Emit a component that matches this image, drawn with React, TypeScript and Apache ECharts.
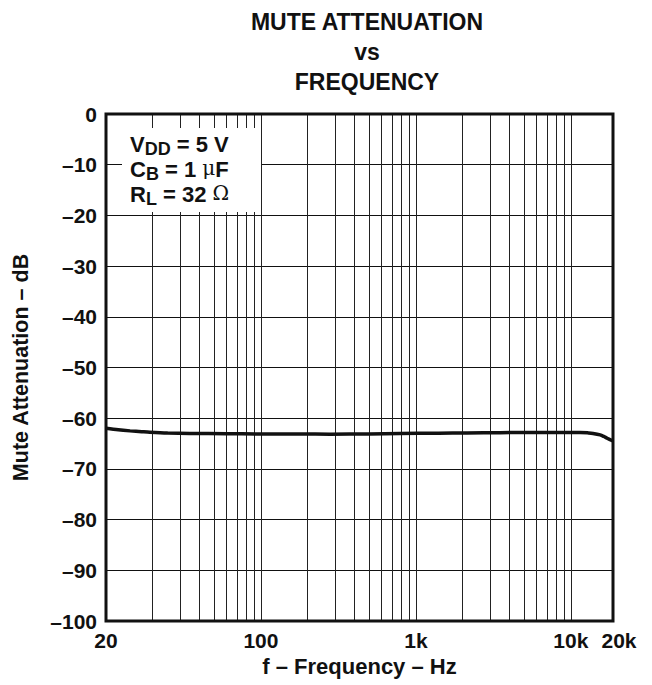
import React, { useEffect, useRef } from "react";
import * as echarts from "echarts";

// Curve (frequency in Hz on the chart's log grid, attenuation in dB)
const freqHz = [10, 12, 14.3, 17, 19.2, 25, 34.8, 60, 94, 180, 279, 500, 789, 1400, 2138, 3500, 5700, 9000, 11460, 13000, 13900, 15450, 16300, 17130, 18700];
const muteDb = [-62.0, -62.3, -62.5, -62.65, -62.75, -62.9, -63.0, -63.05, -63.1, -63.12, -63.15, -63.1, -63.0, -62.95, -62.9, -62.85, -62.8, -62.8, -62.8, -62.9, -63.0, -63.3, -63.6, -63.95, -64.5];

// Axis extent and grid
const xMinHz = 10;
const xMaxHz = 18700;
const gridFreqs = [20, 30, 40, 50, 60, 70, 80, 90, 100, 200, 300, 400, 500, 600, 700, 800, 900, 1000, 2000, 3000, 4000, 5000, 6000, 7000, 8000, 9000, 10000];
const xLabelHz = [10, 100, 1000, 10000, 18700];
const xLabelText = ["20", "100", "1k", "10k", "20k"];
const yMin = -100;
const yMax = 0;
const yStep = 10;

const FONT = "'Liberation Sans', Arial, sans-serif";

export default function App() {
  const ref = useRef<HTMLDivElement>(null);
  useEffect(() => {
    if (!ref.current) return;
    const chart = echarts.init(ref.current, null, { renderer: "svg" });
    const lg = (v: number) => Math.log10(v);
    const labelFor = (v: number) => {
      for (let i = 0; i < xLabelHz.length; i++) {
        if (Math.abs(lg(xLabelHz[i]) - v) < 1e-6) {
          return i === xLabelHz.length - 1 ? "{r|" + xLabelText[i] + "}" : xLabelText[i];
        }
      }
      return "";
    };
    chart.setOption({
      animation: false,
      backgroundColor: "#fff",
      title: {
        text: "MUTE ATTENUATION\nvs\nFREQUENCY",
        left: 367,
        top: 7,
        padding: 0,
        textAlign: "center",
        textStyle: { fontFamily: FONT, fontSize: 23, fontWeight: "bold", color: "#111", lineHeight: 30 },
      },
      grid: {
        left: 106,
        right: 39,
        top: 114,
        bottom: 64,
        show: true,
        borderColor: "#111",
        borderWidth: 3,
        backgroundColor: "transparent",
        z: 3,
      },
      xAxis: {
        type: "value",
        min: lg(xMinHz),
        max: lg(xMaxHz),
        axisLine: { show: false },
        axisTick: { show: false, customValues: gridFreqs.map(lg) },
        splitLine: { show: true, lineStyle: { color: "#222", width: 1 } },
        axisLabel: {
          customValues: xLabelHz.map(lg),
          formatter: (v: number) => labelFor(v),
          fontFamily: FONT,
          fontSize: 21,
          fontWeight: "bold",
          color: "#111",
          margin: 9,
          rich: { r: { fontFamily: FONT, fontSize: 21, fontWeight: "bold", color: "#111", padding: [0, 0, 0, 12] } },
        },
        name: "f – Frequency – Hz",
        nameLocation: "middle",
        nameGap: 34,
        nameTextStyle: { fontFamily: FONT, fontSize: 22, fontWeight: "bold", color: "#111" },
      },
      yAxis: {
        type: "value",
        min: yMin,
        max: yMax,
        interval: yStep,
        axisLine: { show: false },
        axisTick: { show: false },
        splitLine: { show: true, lineStyle: { color: "#111", width: 1 } },
        axisLabel: {
          formatter: (v: number) => (v === 0 ? "0" : "–" + Math.abs(v)),
          fontFamily: FONT,
          fontSize: 21,
          fontWeight: "bold",
          color: "#111",
          margin: 9,
        },
        name: "Mute Attenuation – dB",
        nameLocation: "middle",
        nameRotate: 90,
        nameGap: 74,
        nameTextStyle: { fontFamily: FONT, fontSize: 21.5, fontWeight: "bold", color: "#111" },
      },
      series: [
        {
          type: "line",
          data: freqHz.map((f, i) => [lg(f), muteDb[i]]),
          showSymbol: false,
          smooth: 0.3,
          lineStyle: { color: "#111", width: 3.5 },
          z: 5,
        },
      ],
      graphic: [
        { type: "rect", shape: { x: 122, y: 128, width: 139, height: 84 }, style: { fill: "#fff" }, z: 10 },
        {
          type: "text",
          x: 130,
          y: 133,
          z: 11,
          style: {
            text: "{b|V}{s|DD}{b| = 5 V}\n{b|C}{s|B}{b| = 1 }{g|μ}{b|F}\n{b|R}{s|L}{b| = 32 }{g|Ω}",
            fill: "#111",
            rich: {
              b: { fontFamily: FONT, fontSize: 22, fontWeight: "bold", fill: "#111", lineHeight: 25, verticalAlign: "top" },
              s: { fontFamily: FONT, fontSize: 18, fontWeight: "bold", fill: "#111", lineHeight: 18, padding: [7, 0, 0, 0], verticalAlign: "top" },
              g: { fontFamily: "'DejaVu Serif', 'Liberation Serif', serif", fontSize: 20, fontWeight: "normal", fill: "#111", lineHeight: 25, verticalAlign: "top" },
            },
          },
        },
      ],
    });
    return () => chart.dispose();
  }, []);
  return <div ref={ref} style={{ position: "fixed", left: 0, top: 0, width: 652, height: 685 }} />;
}
